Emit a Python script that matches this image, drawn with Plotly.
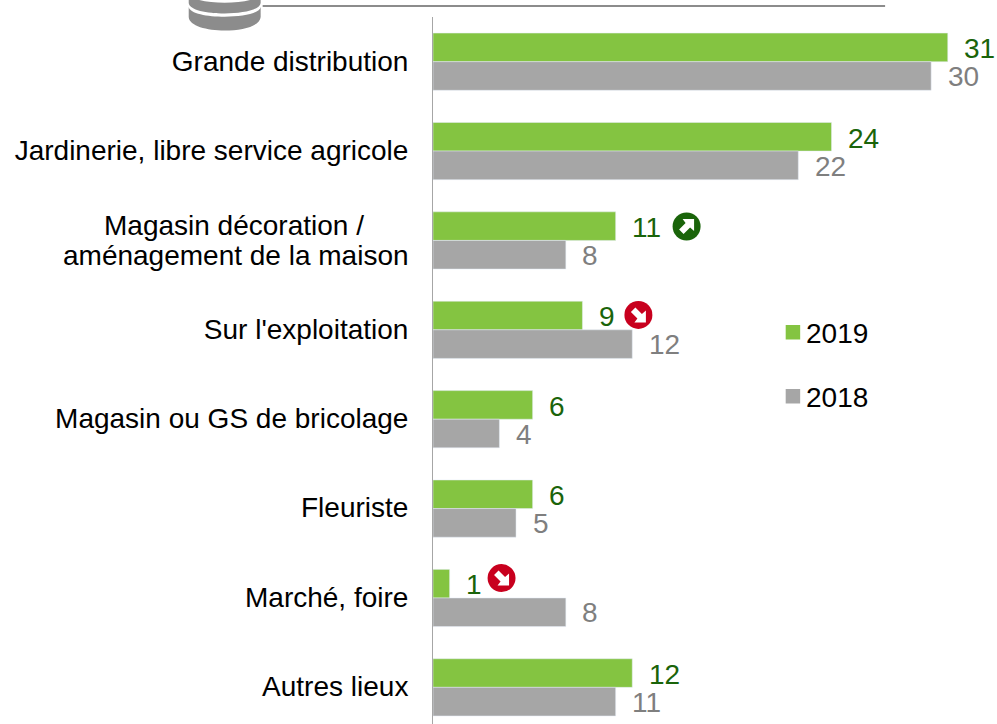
import plotly.graph_objects as go

categories = ["Grande distribution", "Jardinerie, libre service agricole",
              "Magasin décoration / aménagement de la maison",
              "Sur l'exploitation", "Magasin ou GS de bricolage", "Fleuriste",
              "Marché, foire", "Autres lieux"]
tick_labels = ["Grande distribution", "Jardinerie, libre service agricole", "",
               "Sur l'exploitation", "Magasin ou GS de bricolage", "Fleuriste",
               "Marché, foire", "Autres lieux"]
split_label = ("Magasin décoration /", "aménagement de la maison")
values_2019 = [31, 24, 11, 9, 6, 6, 1, 12]
values_2018 = [30, 22, 8, 12, 4, 5, 8, 11]
series_names = ["2019", "2018"]
# trend markers on the 2019 series: category index -> (direction, xshift, yshift)
trends = {2: ("up", 71, 14), 3: ("down", 56, 15), 6: ("down", 52, 20)}

GREEN, GREY = "#84C441", "#A6A6A6"
DARK_GREEN, DARK_RED = "#1A640A", "#C8001E"
LABEL_GREY = "#7F7F7F"
FONT = "Liberation Sans"
W, H, TOP, AXIS_X = 997, 724, 17, 432.5
PX_PER_UNIT, BAND = 16.62, 89.4

def X(px): return (px - AXIS_X) / (W - AXIS_X)
def Y(py): return 1 - (py - TOP) / (H - TOP)

fig = go.Figure()
fig.add_bar(y=categories, x=values_2019, name=series_names[0], orientation="h",
            marker_color=GREEN, showlegend=False)
fig.add_bar(y=categories, x=values_2018, name=series_names[1], orientation="h",
            marker_color=GREY, showlegend=False)

annotations = []
shapes = []
for i, cat in enumerate(categories):
    annotations.append(dict(x=values_2019[i], y=cat, text=str(values_2019[i]), xref="x", yref="y",
                            xanchor="left", yanchor="middle", xshift=14.5, yshift=13, showarrow=False,
                            font=dict(size=28, color=DARK_GREEN, family=FONT)))
    annotations.append(dict(x=values_2018[i], y=cat, text=str(values_2018[i]), xref="x", yref="y",
                            xanchor="left", yanchor="middle", xshift=14.5, yshift=-15, showarrow=False,
                            font=dict(size=28, color=LABEL_GREY, family=FONT)))
# two-line category label with the reference's tight line spacing
for line, xs, ys in zip(split_label, (-45, 0), (14.5, -15)):
    annotations.append(dict(x=X(410), y=categories[2], text=line, xref="paper", yref="y",
                            xanchor="right", yanchor="middle", xshift=xs, yshift=ys, showarrow=False,
                            font=dict(size=28, color="black", family=FONT)))

# trend icons, placed from the bar end and the category band
for i, (d, xs, ys) in trends.items():
    cx = AXIS_X + values_2019[i] * PX_PER_UNIT + xs
    cy = TOP + (i + 0.5) * BAND - ys
    r = 14
    shapes.append(dict(type="circle", xref="paper", yref="paper", x0=X(cx - r), x1=X(cx + r),
                       y0=Y(cy + r), y1=Y(cy - r), fillcolor=DARK_GREEN if d == "up" else DARK_RED,
                       line=dict(width=0), layer="above"))
    pts = [(7.5, -7.5), (-4, -7.5), (-1, -3.5), (-7.5, 3), (-3, 7.5), (3.5, 1), (7.5, 4.5)]
    if d != "up":
        pts = [(x, -y) for x, y in pts]
    path = "M" + "L".join(f"{X(cx + x)},{Y(cy + y)}" for x, y in pts) + "Z"
    shapes.append(dict(type="path", xref="paper", yref="paper", path=path, fillcolor="white",
                       line=dict(width=0), layer="above"))

# legend drawn by hand: compact swatches with wide row spacing
for name, col, py in zip(series_names, (GREEN, GREY), (333, 397)):
    shapes.append(dict(type="rect", xref="paper", yref="paper", x0=X(785.5), x1=X(800),
                       y0=Y(py - 8), y1=Y(py + 6.5), fillcolor=col, line=dict(width=0)))
    annotations.append(dict(x=X(804), y=Y(py), text=name, xref="paper", yref="paper",
                            xanchor="left", yanchor="middle", showarrow=False,
                            font=dict(size=28, color="black", family=FONT)))

# header rule and coin-stack pictogram
shapes.append(dict(type="line", xref="paper", yref="paper", x0=X(262), x1=X(885), y0=Y(6), y1=Y(6),
                   line=dict(color="#8C8C8C", width=2)))
def ring(top, thick, s_top, s_bottom):
    return dict(type="path", xref="paper", yref="paper", fillcolor="#8C8C8C", line=dict(width=0),
                path=(f"M{X(188)},{Y(top)} C{X(190)},{Y(top+s_top)} {X(258)},{Y(top+s_top)} {X(260)},{Y(top)} "
                      f"L{X(260)},{Y(top+thick)} C{X(259)},{Y(top+thick+s_bottom)} {X(189)},{Y(top+thick+s_bottom)} "
                      f"{X(188)},{Y(top+thick)} Z"))
shapes += [ring(-7, 10, 13, 14), ring(7, 10, 13, 18)]

fig.update_layout(
    width=W, height=H, barmode="group", bargap=0.36, bargroupgap=0,
    margin=dict(l=AXIS_X, r=0, t=TOP, b=0),
    paper_bgcolor="white", plot_bgcolor="white",
    font=dict(family=FONT, size=28, color="black"),
    xaxis=dict(range=[0, (W - AXIS_X) / PX_PER_UNIT], visible=False),
    yaxis=dict(type="category", categoryorder="array", categoryarray=categories,
               tickmode="array", tickvals=categories, ticktext=tick_labels,
               range=[7.41, -0.5], showgrid=False, showline=True, linecolor="#A6A6A6", linewidth=1,
               ticks="", ticklabelstandoff=18, ticklabelshift=1,
               tickfont=dict(size=28, color="black", family=FONT)),
    showlegend=False,
    annotations=annotations, shapes=shapes,
)
fig.write_html("out.html", config={"displayModeBar": False},
               post_script="document.body.style.margin='0';document.documentElement.style.overflow='hidden';")
